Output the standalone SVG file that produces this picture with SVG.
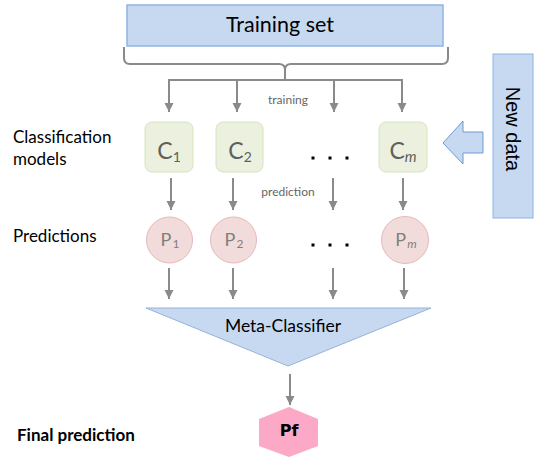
<svg xmlns="http://www.w3.org/2000/svg" width="548" height="461" viewBox="0 0 548 461">
  <style>
    .lbl { font-family: Lato, "Open Sans", "Liberation Sans", sans-serif; fill: #000; }
    .small { font-family: Lato, "Open Sans", "Liberation Sans", sans-serif; font-size: 12px; fill: #666; text-anchor: middle; }
    .conn { stroke: #8a8a8a; stroke-width: 2; fill: none; }
    .cbox { fill: #ebf1de; stroke: #d7e4bd; stroke-width: 1; }
    .ctxt { font-family: Lato, "Open Sans", "Liberation Sans", sans-serif; font-size: 23px; fill: #5f5f5f; text-anchor: middle; }
    .pcirc { fill: #f2dcdb; stroke: #e6b9b8; stroke-width: 1; }
    .ptxt { font-family: Lato, "Open Sans", "Liberation Sans", sans-serif; font-size: 18px; fill: #7f7f7f; text-anchor: middle; }
    .dot { fill: #000; }
  </style>
  <defs>
    <marker id="arrow" markerUnits="userSpaceOnUse" markerWidth="10" markerHeight="10" refX="9" refY="4.5" orient="auto">
      <path d="M0,0 L9,4.5 L0,9 z" fill="#8a8a8a"/>
    </marker>
  </defs>

  <rect width="548" height="461" fill="#fff"/>

  <!-- side labels -->
  <g id="labels">
    <text class="lbl" x="13" y="143" font-size="17">Classification</text>
    <text class="lbl" x="13" y="165" font-size="17">models</text>
    <text class="lbl" x="13" y="242" font-size="17">Predictions</text>
    <text class="lbl" x="17" y="441" font-size="17" font-weight="bold">Final prediction</text>
  </g>

  <!-- training set -->
  <g id="training-set">
    <rect x="127" y="5" width="316" height="41" fill="#c6d9f1" stroke="#8eb4e3" stroke-width="1.5"/>
    <text class="lbl" x="280" y="32" font-size="21.5" text-anchor="middle">Training set</text>
  </g>

  <!-- connectors -->
  <g id="connectors">
    <path class="conn" d="M124,47 V58 Q124,64 130,64 H279 Q285,64 285,70 V80"/>
    <path class="conn" d="M448,47 V58 Q448,64 442,64 H291 Q285,64 285,70"/>
    <path class="conn" d="M169,112 V80 H402 V112"/>
    <line class="conn" x1="169" y1="80" x2="169" y2="112" marker-end="url(#arrow)"/>
    <line class="conn" x1="237" y1="80" x2="237" y2="112" marker-end="url(#arrow)"/>
    <line class="conn" x1="334" y1="80" x2="334" y2="112" marker-end="url(#arrow)"/>
    <line class="conn" x1="402" y1="80" x2="402" y2="112" marker-end="url(#arrow)"/>

    <line class="conn" x1="171" y1="178" x2="171" y2="210" marker-end="url(#arrow)"/>
    <line class="conn" x1="233" y1="178" x2="233" y2="210" marker-end="url(#arrow)"/>
    <line class="conn" x1="333" y1="178" x2="333" y2="210" marker-end="url(#arrow)"/>
    <line class="conn" x1="403" y1="178" x2="403" y2="210" marker-end="url(#arrow)"/>

    <line class="conn" x1="169" y1="268" x2="169" y2="299" marker-end="url(#arrow)"/>
    <line class="conn" x1="233" y1="268" x2="233" y2="299" marker-end="url(#arrow)"/>
    <line class="conn" x1="333" y1="268" x2="333" y2="299" marker-end="url(#arrow)"/>
    <line class="conn" x1="404" y1="268" x2="404" y2="299" marker-end="url(#arrow)"/>

    <line class="conn" x1="290" y1="374" x2="290" y2="405" marker-end="url(#arrow)"/>

    <text class="small" x="288" y="104">training</text>
    <text class="small" x="288" y="196">prediction</text>
  </g>

  <!-- classification models -->
  <g id="c1">
    <rect class="cbox" x="145" y="122" width="48" height="50" rx="7"/>
    <text class="ctxt" x="169" y="159"><tspan>C</tspan><tspan font-size="14" dy="3">1</tspan></text>
  </g>
  <g id="c2">
    <rect class="cbox" x="216" y="122" width="47" height="50" rx="7"/>
    <text class="ctxt" x="240" y="159"><tspan>C</tspan><tspan font-size="14" dy="3">2</tspan></text>
  </g>
  <g id="c-dots">
    <rect class="dot" x="311.5" y="156.5" width="3" height="3"/>
    <rect class="dot" x="328.5" y="156.5" width="3" height="3"/>
    <rect class="dot" x="345.5" y="156.5" width="3" height="3"/>
  </g>
  <g id="cm">
    <rect class="cbox" x="379" y="122" width="48" height="50" rx="7"/>
    <text class="ctxt" x="403" y="159"><tspan>C</tspan><tspan font-size="15" font-style="italic" dy="3">m</tspan></text>
  </g>

  <!-- predictions -->
  <g id="p1">
    <circle class="pcirc" cx="169.5" cy="240" r="23"/>
    <text class="ptxt" x="170" y="246"><tspan>P</tspan><tspan font-size="12" dx="1" dy="2">1</tspan></text>
  </g>
  <g id="p2">
    <circle class="pcirc" cx="233.5" cy="240" r="23"/>
    <text class="ptxt" x="234" y="246"><tspan>P</tspan><tspan font-size="12" dx="1" dy="2">2</tspan></text>
  </g>
  <g id="p-dots">
    <rect class="dot" x="311.5" y="243.5" width="3" height="3"/>
    <rect class="dot" x="328.5" y="243.5" width="3" height="3"/>
    <rect class="dot" x="345.5" y="243.5" width="3" height="3"/>
  </g>
  <g id="pm">
    <circle class="pcirc" cx="405" cy="240" r="23.5"/>
    <text class="ptxt" x="406" y="246"><tspan>P</tspan><tspan font-size="12" font-style="italic" dx="1" dy="2">m</tspan></text>
  </g>

  <!-- meta-classifier -->
  <g id="meta-classifier">
    <polygon points="146,308 431,308 288,366" fill="#c6d9f1" stroke="#95b3d7" stroke-width="1"/>
    <text class="lbl" x="283" y="332" font-size="17.5" text-anchor="middle">Meta-Classifier</text>
  </g>

  <!-- final prediction -->
  <g id="pf">
    <polygon points="289,407 318,419 318,446 289,457 259,446 259,419" fill="#fba9c6"/>
    <text x="289" y="436" font-family="'DejaVu Sans', Verdana, sans-serif" font-size="16" font-weight="bold" fill="#000" text-anchor="middle">Pf</text>
  </g>

  <!-- new data -->
  <g id="new-data">
    <rect x="493" y="54" width="40" height="164" fill="#c6d9f1" stroke="#8eb4e3" stroke-width="1"/>
    <text x="0" y="0" transform="translate(506,129) rotate(90)" font-family="'Liberation Sans', Arial, sans-serif" font-size="20" fill="#000" text-anchor="middle">New data</text>
    <polygon points="443,143 463,121 463,132 483,132 483,153 463,153 463,164" fill="#c6d9f1" stroke="#6d9bd1" stroke-width="1"/>
  </g>
</svg>
